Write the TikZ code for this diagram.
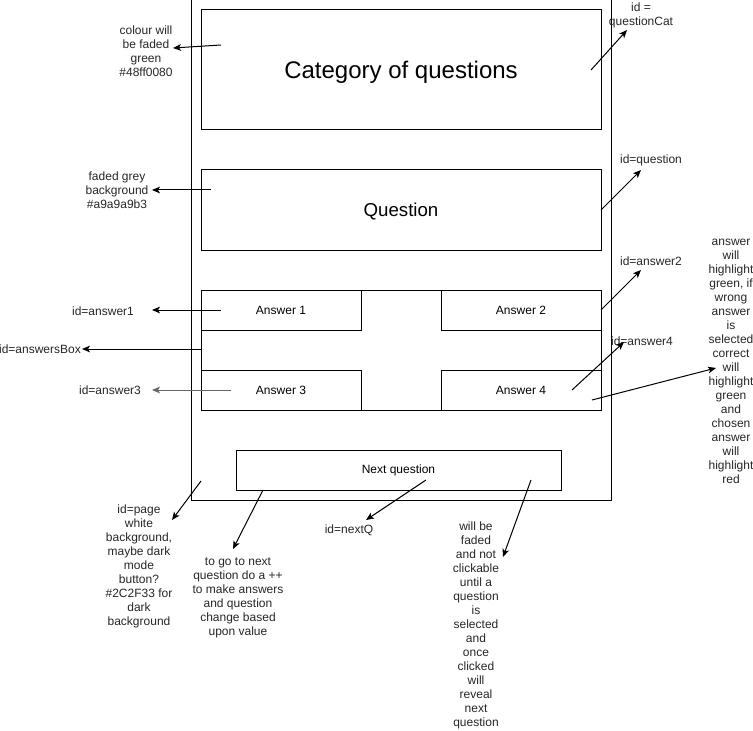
\documentclass[tikz,border=0pt]{standalone}
\usepackage{fontspec}
\setmainfont{Liberation Sans}
\usetikzlibrary{arrows.meta}

\begin{document}
\begin{tikzpicture}[
    x=0.75pt, y=-0.75pt,
    box/.style={rectangle, draw, line width=0.75pt, inner sep=0pt, font=\fontsize{9}{10.5}\selectfont},
    note/.style={align=center, font=\fontsize{9}{10.5}\selectfont, inner sep=1pt, text=black!85},
    arr/.style={-{Stealth[length=6pt, width=5pt, inset=1.5pt]}, line width=0.75pt}
]
    \useasboundingbox (0,0) rectangle (753,731);

    % Pagina i caixes
    \node[box, minimum width=315pt, minimum height=375pt] (page) at (401,250) {};
    \node[box, minimum width=300pt, minimum height=90pt, text depth=0pt, font=\fontsize{18}{21}\selectfont] (cat) at (401,70) {Category of questions};
    \node[box, minimum width=300pt, minimum height=60pt, text depth=0pt, font=\fontsize{14}{17}\selectfont] (question) at (401,210) {Question};
    \node[box, minimum width=300pt, minimum height=90pt] (answers) at (401,350) {};
    \node[box, minimum width=120pt, minimum height=30pt] (ans1) at (281,310) {Answer 1};
    \node[box, minimum width=120pt, minimum height=30pt] (ans2) at (521,310) {Answer 2};
    \node[box, minimum width=120pt, minimum height=30pt] (ans3) at (281,390) {Answer 3};
    \node[box, minimum width=120pt, minimum height=30pt] (ans4) at (521,390) {Answer 4};
    \node[box, minimum width=243.75pt, minimum height=30pt] (next) at (398.5,470) {Next question};

    % Notes
    \node[note] (catColour) at (146,51) {colour will\\be faded\\green\\\#48ff0080};
    \node[note] (qGrey) at (117,190) {faded grey\\background\\\#a9a9a9b3};
    \node[note] (catId) at (641,15) {id =\\questionCat};
    \node[note] (qId) at (651,160) {id=question};
    \node[note] (a2Id) at (651,261) {id=answer2};
    \node[note] (a4Id) at (642,341) {id=answer4};
    \node[note] (highlight) at (731,361) {answer\\will\\highlight\\green, if\\wrong\\answer\\is\\selected\\correct\\will\\highlight\\green\\and\\chosen\\answer\\will\\highlight\\red};
    \node[note] (a1Id) at (103,311) {id=answer1};
    \node[note] (boxId) at (40,349) {id=answersBox};
    \node[note] (a3Id) at (110,390) {id=answer3};
    \node[note] (pageId) at (139,566) {id=page\\white\\background,\\maybe dark\\mode\\button?\\\#2C2F33 for\\dark\\background};
    \node[note] (nextGo) at (238,598) {to go to next\\question do a ++\\to make answers\\and question\\change based\\upon value};
    \node[note] (nextId) at (349,530) {id=nextQ};
    \node[note] (nextFaded) at (476,625) {will be\\faded\\and not\\clickable\\until a\\question\\is\\selected\\and\\once\\clicked\\will\\reveal\\next\\question};

    % Punts de les fletxes
    \coordinate (catIn) at (221,45);   \coordinate (catTip) at (173,48);
    \coordinate (qIn) at (211,190);    \coordinate (qTip) at (152,190);
    \coordinate (catOut) at (591,70);  \coordinate (catIdTip) at (627,30);
    \coordinate (qOut) at (601,210);   \coordinate (qIdTip) at (641,170);
    \coordinate (a2Out) at (601,310);  \coordinate (a2Tip) at (641,270);
    \coordinate (a1In) at (221,310);   \coordinate (a1Tip) at (152,310);
    \coordinate (boxIn) at (201,349);  \coordinate (boxTip) at (82,349);
    \coordinate (a3In) at (231,390);   \coordinate (a3Tip) at (152,390);
    \coordinate (a4In) at (572,390);   \coordinate (a4Tip) at (624,342);
    \coordinate (a4Low) at (592,400);  \coordinate (hlTip) at (716,368);
    \coordinate (pageIn) at (201,481); \coordinate (pageTip) at (172,520);
    \coordinate (nextL) at (263,490);  \coordinate (goTip) at (233,549);
    \coordinate (nextM) at (426,480);  \coordinate (nextIdTip) at (366,520);
    \coordinate (nextR) at (531,480);  \coordinate (fadedTip) at (503,557);

    % Fletxes
    \draw[arr] (catIn) -- (catTip);
    \draw[arr] (qIn) -- (qTip);
    \draw[arr] (catOut) -- (catIdTip);
    \draw[arr] (qOut) -- (qIdTip);
    \draw[arr] (a2Out) -- (a2Tip);
    \draw[arr] (a1In) -- (a1Tip);
    \draw[arr] (boxIn) -- (boxTip);
    \draw[arr, draw=black!60] (a3In) -- (a3Tip);
    \draw[arr] (a4In) -- (a4Tip);
    \draw[arr] (a4Low) -- (hlTip);
    \draw[arr] (pageIn) -- (pageTip);
    \draw[arr] (nextL) -- (goTip);
    \draw[arr] (nextM) -- (nextIdTip);
    \draw[arr] (nextR) -- (fadedTip);
\end{tikzpicture}
\end{document}
